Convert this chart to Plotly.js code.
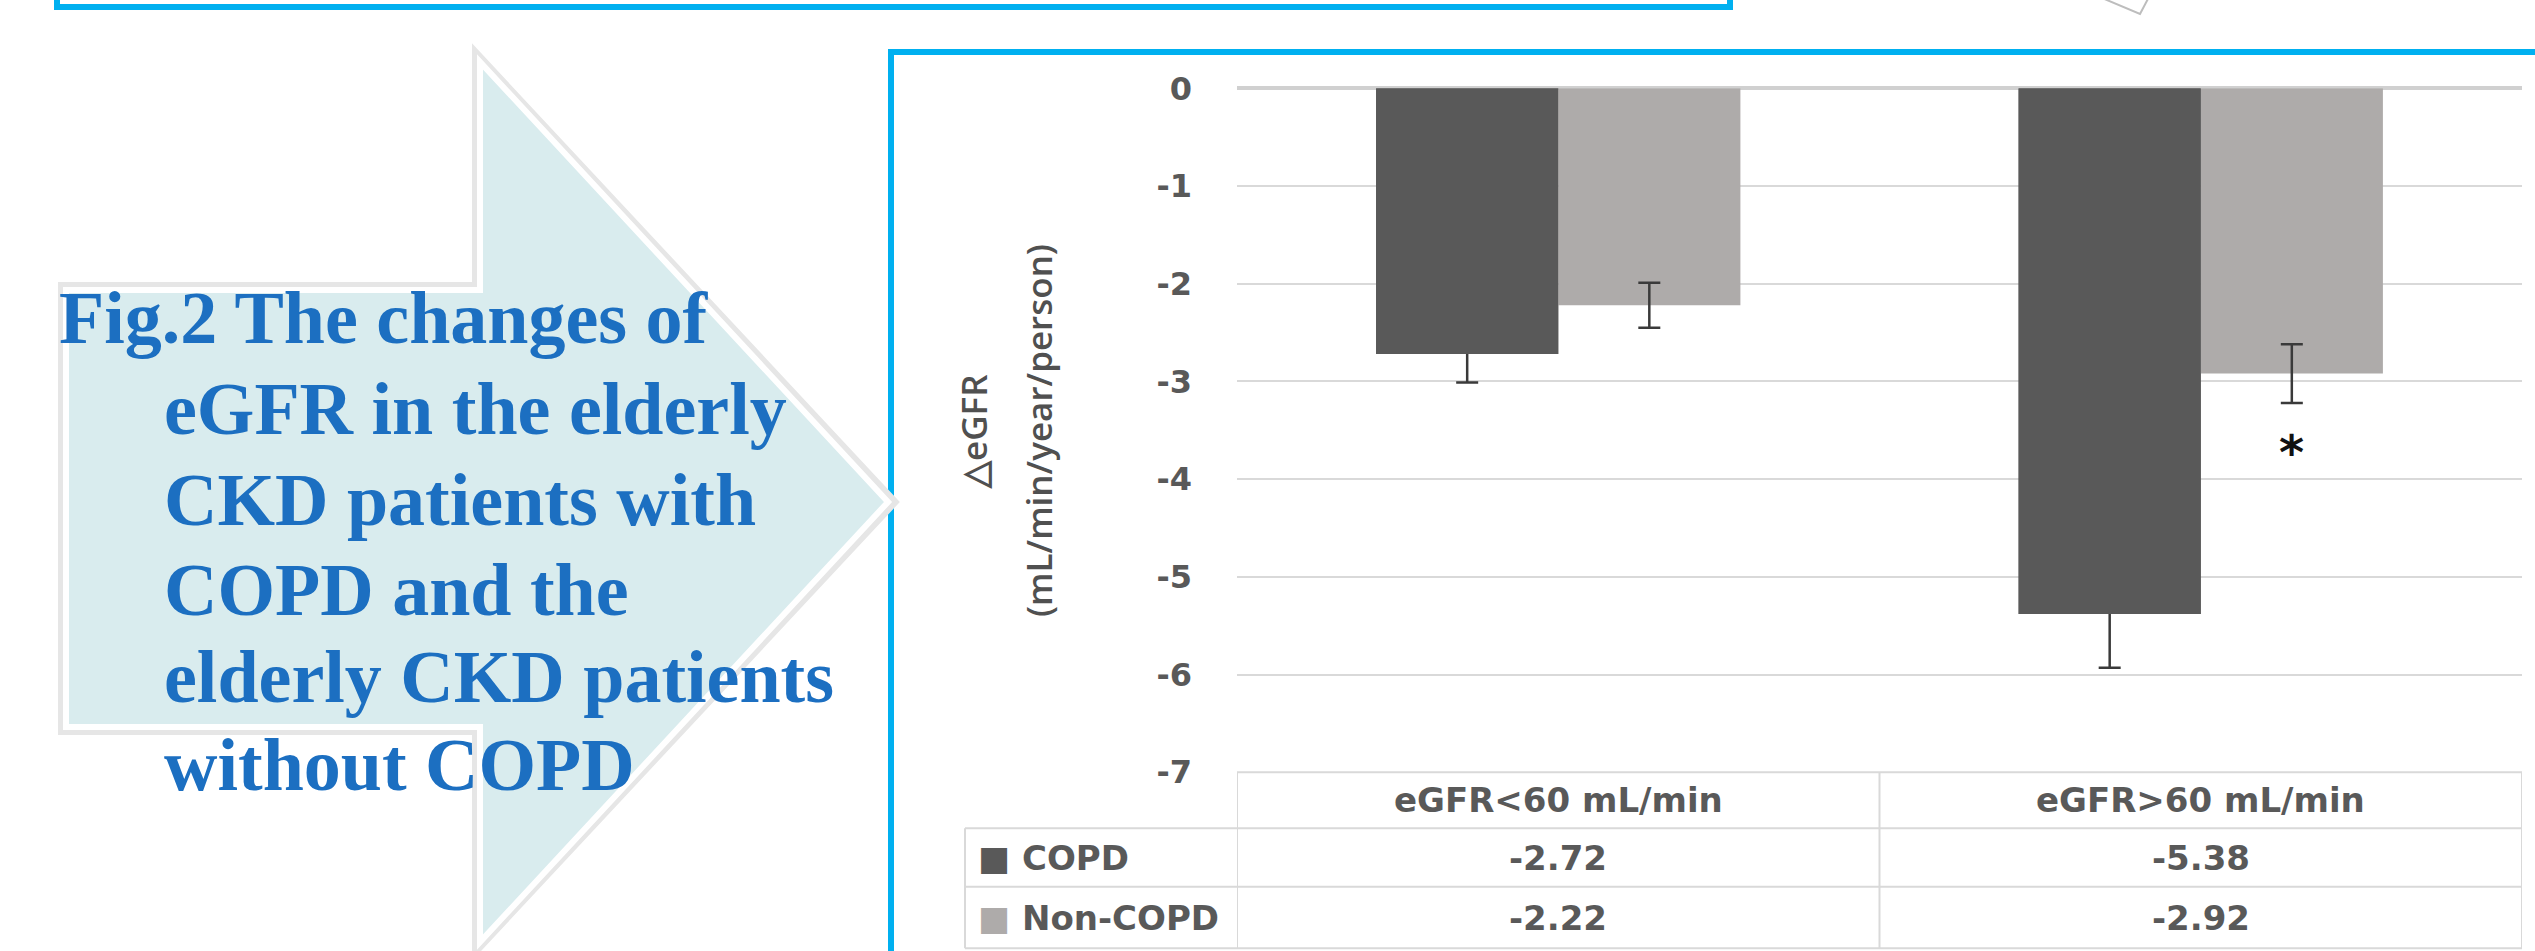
<!DOCTYPE html>
<html><head><meta charset="utf-8">
<script src="https://cdn.plot.ly/plotly-3.0.1.min.js"></script>
<style>html,body{margin:0;padding:0;background:#fff;overflow:hidden;} #chart{width:2535px;height:951px;}</style>
</head><body><div id="chart"></div>
<script>
// ---------- data ----------
const categories = ['eGFR<60 mL/min', 'eGFR>60 mL/min'];
const seriesNames = ['COPD', 'Non-COPD'];
const copdValues = [-2.72, -5.38];
const nonCopdValues = [-2.22, -2.92];
const copdErrorsMinus = [0.29, 0.55];
const nonCopdErrors = [0.23, 0.30];
const sigCategory = ['eGFR>60 mL/min'];
const sigY = [-3.68];
const sigText = ['*'];
const yTickVals = [0, -1, -2, -3, -4, -5, -6, -7];
const yTickText = ['0', '-1', '-2', '-3', '-4', '-5', '-6', '-7'];
const yTitleLines = ['\u25B3eGFR', '(mL/min/year/person)'];
const captionLines = ['Fig.2 The changes of', 'eGFR in the elderly', 'CKD patients with', 'COPD and the', 'elderly CKD patients', 'without COPD'];

// ---------- style ----------
const W = 2535, H = 951;
const px = x => x / W;
const py = y => 1 - y / H;
const colors = ['#595959', '#aeabaa'];
const gridColor = '#d9d9d9';
const textGray = '#595959';
const frameBlue = '#00b0f0';
const toPath = pts => 'M ' + pts.map(p => px(p[0]).toFixed(5) + ',' + py(p[1]).toFixed(5)).join(' L ') + ' Z';
const tableFont = {family: 'DejaVu Sans', size: 34, color: textGray, weight: 'bold'};

const traces = [
  {
    // COPD bars with downward (minus) error bars
    type: 'bar', name: seriesNames[0], x: categories, y: copdValues, offsetgroup: 'copd',
    marker: {color: colors[0], line: {width: 0}},
    error_y: {type: 'data', symmetric: false, array: copdValues.map(() => 0.03), arrayminus: copdErrorsMinus,
              visible: true, color: '#3a3a3a', thickness: 2.5, width: 11},
    hoverinfo: 'skip', showlegend: false
  },
  {
    type: 'bar', name: seriesNames[1], x: categories, y: nonCopdValues, offsetgroup: 'noncopd',
    marker: {color: colors[1], line: {width: 0}},
    error_y: {type: 'data', array: nonCopdErrors, visible: true, color: '#3a3a3a', thickness: 2.5, width: 11},
    hoverinfo: 'skip', showlegend: false
  },
  {
    // same COPD bars redrawn on top so only the minus part of their error bars shows
    type: 'bar', name: seriesNames[0], x: categories, y: copdValues, offsetgroup: 'copd',
    marker: {color: colors[0], line: {width: 0}},
    hoverinfo: 'skip', showlegend: false
  }
];

// ---------- data table under the chart (grid + texts) ----------
const tblTop = 772.2, tblHead = 828.3, tblRow1 = 886.7, tblBottom = 948.3, tblLeft = 965;
const tLine = {color: gridColor, width: 2};
const shapes = [
  // top panel frame (bottom edge visible)
  {type: 'rect', xref: 'paper', yref: 'paper', x0: px(57), x1: px(1730), y0: py(7), y1: py(-40),
   line: {color: frameBlue, width: 6}, fillcolor: 'rgba(0,0,0,0)', layer: 'below'},
  // chart frame
  {type: 'rect', xref: 'paper', yref: 'paper', x0: px(891), x1: px(2600), y0: py(1000), y1: py(52),
   line: {color: frameBlue, width: 6}, fillcolor: 'rgba(0,0,0,0)', layer: 'below'},
  // arrow shadow
  {type: 'path', xref: 'paper', yref: 'paper', layer: 'below',
   path: toPath([[63, 287], [477, 287], [477, 56], [893, 502], [477, 948], [477, 730], [63, 730]]),
   line: {color: '#e6e6e6', width: 10}, fillcolor: 'rgba(0,0,0,0)'},
  // arrow
  {type: 'path', xref: 'paper', yref: 'paper', layer: 'below',
   path: toPath([[66, 290], [480, 290], [480, 62], [888, 502], [480, 942], [480, 727], [66, 727]]),
   line: {color: '#ffffff', width: 6}, fillcolor: '#d9ecee'},
  // partial shape at top right
  {type: 'path', xref: 'paper', yref: 'paper', layer: 'below',
   path: toPath([[2095, -5], [2140, 14], [2150, -5]]),
   line: {color: '#bdbdbd', width: 2}, fillcolor: '#ffffff'},
  // table horizontal lines
  {type: 'line', xref: 'x', yref: 'paper', x0: -0.5, x1: 1.5, y0: py(tblTop), y1: py(tblTop), line: tLine},
  {type: 'line', xref: 'paper', yref: 'paper', x0: px(tblLeft), x1: px(2522), y0: py(tblHead), y1: py(tblHead), line: tLine},
  {type: 'line', xref: 'paper', yref: 'paper', x0: px(tblLeft), x1: px(2522), y0: py(tblRow1), y1: py(tblRow1), line: tLine},
  {type: 'line', xref: 'paper', yref: 'paper', x0: px(tblLeft), x1: px(2522), y0: py(tblBottom), y1: py(tblBottom), line: tLine},
  // table vertical lines
  {type: 'line', xref: 'paper', yref: 'paper', x0: px(tblLeft), x1: px(tblLeft), y0: py(tblHead), y1: py(tblBottom), line: tLine},
  {type: 'line', xref: 'x', yref: 'paper', x0: -0.5, x1: -0.5, y0: py(tblTop), y1: py(tblBottom), line: tLine},
  {type: 'line', xref: 'x', yref: 'paper', x0: 0.5, x1: 0.5, y0: py(tblTop), y1: py(tblBottom), line: tLine},
  {type: 'line', xref: 'x', yref: 'paper', x0: 1.5, x1: 1.5, y0: py(tblTop), y1: py(tblBottom), line: tLine}
];

const annotations = [];
const captionX = [57, 162, 162, 162, 162, 162];
const captionY = [318, 409, 500, 590, 677, 765];
captionLines.forEach((t, i) => annotations.push({
  xref: 'paper', yref: 'paper', x: px(captionX[i]), y: py(captionY[i]),
  xanchor: 'left', yanchor: 'middle', text: t, showarrow: false,
  font: {family: 'Liberation Serif', size: 74, color: '#1c6fc1', weight: 'bold'}
}));

const titleX = [973, 1038];
yTitleLines.forEach((t, i) => annotations.push({
  xref: 'paper', yref: 'paper', x: px(titleX[i]), y: py(431),
  xanchor: 'center', yanchor: 'middle', text: t, textangle: -90, showarrow: false,
  font: {family: 'Open Sans', size: 35, color: '#505050', weight: 600}
}));

sigCategory.forEach((c, i) => annotations.push({
  xref: 'x', yref: 'y', x: c, y: sigY[i], xshift: 91, yshift: -4,
  text: sigText[i], showarrow: false,
  font: {family: 'DejaVu Sans', size: 48, color: '#111111', weight: 'bold'}
}));

// table header (category names)
const headY = (tblTop + tblHead) / 2;
const rowY = [(tblHead + tblRow1) / 2, (tblRow1 + tblBottom) / 2];
categories.forEach(c => annotations.push({
  xref: 'x', yref: 'paper', x: c, y: py(headY), xanchor: 'center', yanchor: 'middle',
  text: c.replace('<', '&lt;').replace('>', '&gt;'), showarrow: false, font: tableFont
}));
// table rows: legend key + values
const seriesValues = [copdValues, nonCopdValues];
seriesNames.forEach((n, s) => {
  annotations.push({
    xref: 'paper', yref: 'paper', x: px(976), y: py(rowY[s]), xanchor: 'left', yanchor: 'middle',
    text: '<span style="color:' + colors[s] + '">\u25A0</span> ' + n, showarrow: false, font: tableFont
  });
  categories.forEach((c, k) => annotations.push({
    xref: 'x', yref: 'paper', x: c, y: py(rowY[s]), xanchor: 'center', yanchor: 'middle',
    text: seriesValues[s][k].toFixed(2), showarrow: false, font: tableFont
  }));
});

const layout = {
  width: W, height: H,
  margin: {l: 0, r: 0, t: 0, b: 0, pad: 0},
  paper_bgcolor: '#ffffff', plot_bgcolor: 'rgba(0,0,0,0)',
  barmode: 'group', bargap: 0.433, bargroupgap: 0,
  showlegend: false,
  xaxis: {
    domain: [px(1237), px(2522)], type: 'category', range: [-0.5, 1.5],
    showticklabels: false, showgrid: false, zeroline: false, showline: false, ticks: ''
  },
  yaxis: {
    domain: [py(772.2), py(88.3)], range: [-7, 0], autorange: false,
    tickvals: yTickVals, ticktext: yTickText, ticks: '',
    ticklabelstandoff: 44,
    tickfont: {family: 'DejaVu Sans', size: 32, color: textGray, weight: 'bold'},
    showgrid: true, gridcolor: gridColor, gridwidth: 2,
    zeroline: true, zerolinecolor: '#d0d0d0', zerolinewidth: 4, showline: false
  },
  shapes: shapes,
  annotations: annotations
};

Plotly.newPlot('chart', traces, layout, {displayModeBar: false, staticPlot: true});
</script>
</body></html>
